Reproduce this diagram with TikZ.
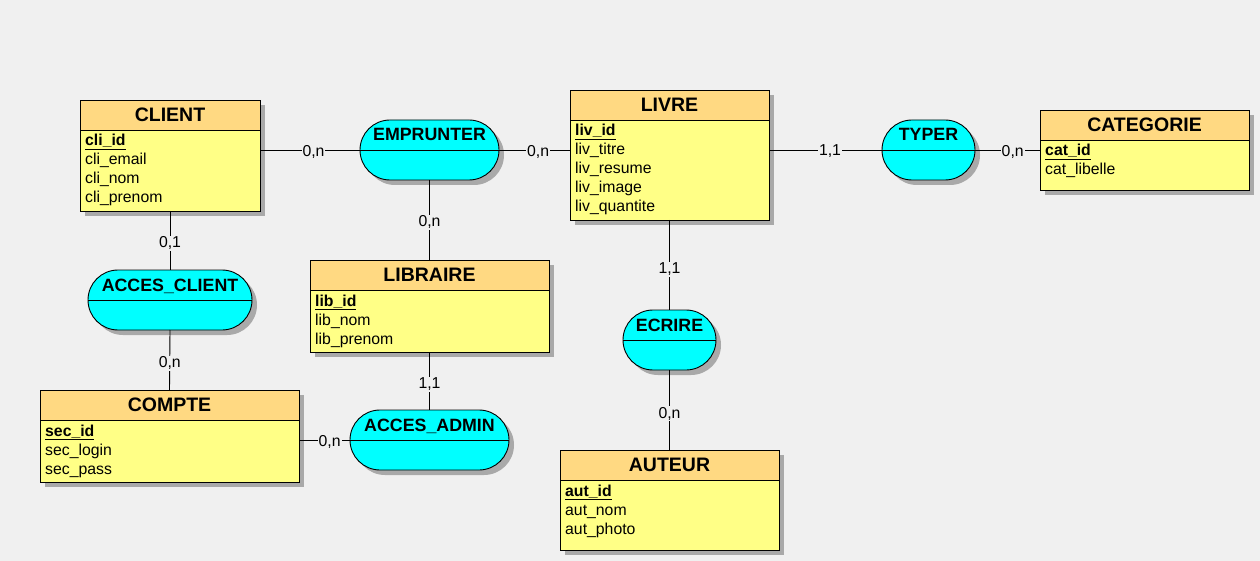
\documentclass[tikz,border=0pt]{standalone}
\usepackage{fontspec}
\setmainfont{Liberation Sans}
\usetikzlibrary{calc,shadows}
\definecolor{bgcol}{HTML}{F0F0F0}
\definecolor{headcol}{HTML}{FFD982}
\definecolor{bodycol}{HTML}{FFFF86}
\definecolor{assoccol}{HTML}{00FFFF}
\definecolor{shadowcol}{HTML}{A9A9A9}
\tikzset{
  x=1pt, y=-1pt,
  myshadow/.style={drop shadow={shadow xshift=5pt, shadow yshift=-5pt, fill=shadowcol, opacity=1}},
  entbox/.style={draw=black, line width=0.9pt, fill=bodycol, rectangle, inner sep=0pt, outer sep=0pt, anchor=north west, myshadow},
  assocbox/.style={draw=black, line width=0.9pt, fill=assoccol, rectangle, rounded corners=30pt, inner sep=0pt, outer sep=0pt, myshadow},
  thinline/.style={draw=black, line width=0.9pt},
  headtxt/.style={inner sep=0pt, font=\fontsize{19.5}{22}\selectfont\bfseries},
  assoctxt/.style={inner sep=0pt, font=\fontsize{17.8}{20}\selectfont\bfseries},
  attrtxt/.style={inner sep=0pt, font=\fontsize{15.8}{18}\selectfont},
  conn/.style={draw=black, line width=0.9pt},
  lbl/.style={fill=bgcol, inner sep=1pt, yshift=-1.5pt, font=\fontsize{15.8}{18}\selectfont},
}
\newcommand\mcdentity[8]{%
  \node[entbox, minimum width={#4-#2}, minimum height={#5-#3}] (#1) at (#2,#3) {};
  \fill[headcol] (#1.north west) rectangle ($(#1.north east)+(0,30)$);
  \draw[thinline] ($(#1.north west)+(0,30)$) -- ($(#1.north east)+(0,30)$);
  \draw[thinline] (#1.north west) rectangle (#1.south east);
  \node[headtxt, anchor=base] at ($(#1.north)+(0,21.5)$) {#6};
  \node[attrtxt, anchor=base west] at ($(#1.north west)+(5,46)$) {\underline{\textbf{#7}}};
  \foreach \a [count=\i] in {#8} {
    \node[attrtxt, anchor=base west] at ($(#1.north west)+(5,{46+19*\i})$) {\a};
  }
}
\newcommand\mcdassoc[6]{%
  \node[assocbox, minimum width={#4-#2}, minimum height={#5-#3}] (#1) at ({(#2+#4)/2},{(#3+#5)/2}) {};
  \draw[thinline] (#1.west) -- (#1.east);
  \node[assoctxt, anchor=base] at ($(#1.north)+(0,21)$) {#6};
}
\begin{document}
\begin{tikzpicture}
\fill[bgcol] (0,0) rectangle (1260,561);
\useasboundingbox (0,0) rectangle (1260,561);

\mcdentity{client}{80}{100}{260}{211}{CLIENT}{cli\_id}{cli\_email,cli\_nom,cli\_prenom}
\mcdentity{livre}{570}{90}{769}{220}{LIVRE}{liv\_id}{liv\_titre,liv\_resume,liv\_image,liv\_quantite}
\mcdentity{categorie}{1040}{110}{1249}{190}{CATEGORIE}{cat\_id}{cat\_libelle}
\mcdentity{libraire}{310}{260}{549}{352}{LIBRAIRE}{lib\_id}{lib\_nom,lib\_prenom}
\mcdentity{compte}{40}{390}{299}{482}{COMPTE}{sec\_id}{sec\_login,sec\_pass}
\mcdentity{auteur}{560}{450}{779}{550}{AUTEUR}{aut\_id}{aut\_nom,aut\_photo}

\mcdassoc{emprunter}{360}{120}{499}{180}{EMPRUNTER}
\mcdassoc{typer}{882}{120}{975}{180}{TYPER}
\mcdassoc{accesclient}{88}{270}{252}{330}{ACCES\_CLIENT}
\mcdassoc{accesadmin}{350}{410}{509}{470}{ACCES\_ADMIN}
\mcdassoc{ecrire}{623}{310}{716}{370}{ECRIRE}

\draw[conn] (client.east |- emprunter.west) -- node[lbl, pos=0.535] {0,n} (emprunter.west);
\draw[conn] (emprunter.east) -- node[lbl, pos=0.55] {0,n} (livre.west |- emprunter.east);
\draw[conn] (emprunter.south) -- node[lbl, pos=0.51] {0,n} (libraire.north);
\draw[conn] (livre.east |- typer.west) -- node[lbl, pos=0.54] {1,1} (typer.west);
\draw[conn] (typer.east) -- node[lbl, pos=0.58] {0,n} (categorie.west |- typer.east);
\draw[conn] (client.south) -- node[lbl, pos=0.525] {0,1} (accesclient.north);
\draw[conn] (accesclient.south) -- node[lbl, pos=0.53] {0,n} (compte.north);
\draw[conn] (libraire.south) -- node[lbl, pos=0.53] {1,1} (accesadmin.north);
\draw[conn] (compte.east |- accesadmin.west) -- node[lbl, pos=0.6] {0,n} (accesadmin.west);
\draw[conn] (livre.south) -- node[lbl, pos=0.53] {1,1} (ecrire.north);
\draw[conn] (ecrire.south) -- node[lbl, pos=0.525] {0,n} (auteur.north);
\end{tikzpicture}
\end{document}
